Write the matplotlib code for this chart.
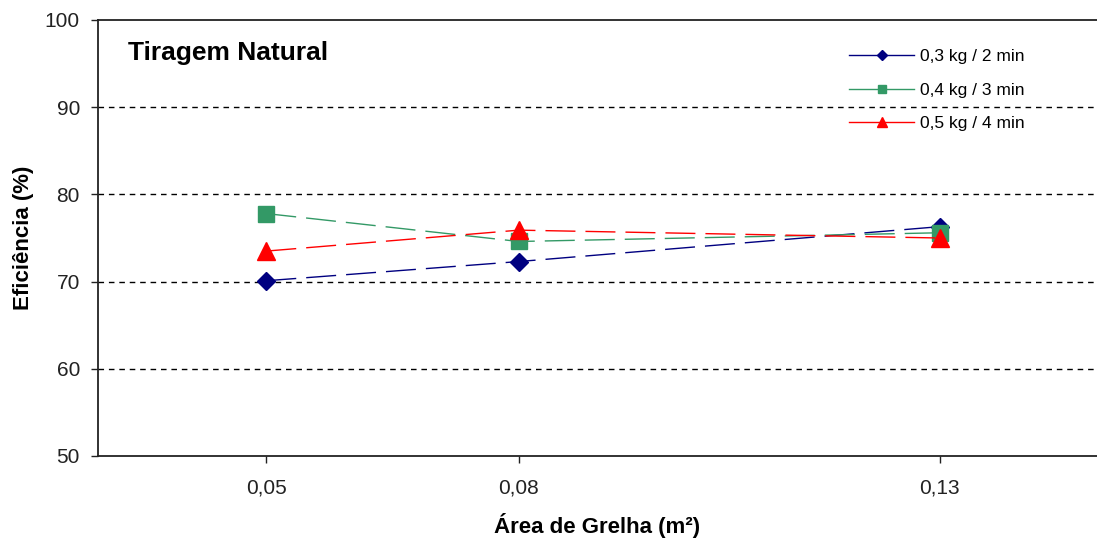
import matplotlib
matplotlib.use("Agg")
import matplotlib.pyplot as plt
from matplotlib.lines import Line2D

plt.rcParams['font.family'] = ['Liberation Sans', 'DejaVu Sans']

area = [0.05, 0.08, 0.13]
area_labels = ["0,05", "0,08", "0,13"]
serie_03 = [70.1, 72.3, 76.3]
serie_04 = [77.8, 74.6, 75.6]
serie_05 = [73.5, 75.9, 75.0]
labels = ["0,3 kg / 2 min", "0,4 kg / 3 min", "0,5 kg / 4 min"]
yticks = [50, 60, 70, 80, 90, 100]

colors = ["#000080", "#339966", "#FF0000"]
markers = ["D", "s", "^"]
msizes = [8.7, 11.5, 12.5]
leg_ms = [5.0, 6.0, 7.0]

fig = plt.figure(figsize=(10.97, 5.42), dpi=100)
ax = fig.add_axes([98/1097, 1-456/542, 1-98/1097, (456-20)/542])

dash = (0, (21.6, 7.2))
for vals, c, m, ms in zip([serie_03, serie_04, serie_05], colors, markers, msizes):
    ax.plot(area, vals, color=c, lw=1.0, linestyle=dash, marker=m, markersize=ms,
            markerfacecolor=c, markeredgecolor=c, zorder=3)

ax.set_xlim(0.03, 0.1487)
ax.set_ylim(50, 100)
ax.set_xticks(area)
ax.set_xticklabels(area_labels)
ax.set_yticks(yticks)
ax.set_yticklabels([str(v) for v in yticks])

for v in yticks[1:-1]:
    ax.axhline(v, color='black', lw=1.0, linestyle=(0, (4, 3.5)), zorder=1)

ax.spines['right'].set_visible(False)
for s in ['left', 'bottom', 'top']:
    ax.spines[s].set_linewidth(1.3)
    ax.spines[s].set_color('#222222')

ax.tick_params(axis='both', direction='out', length=5, width=1, colors='#222222',
               labelsize=15, labelcolor='#222222')
ax.tick_params(axis='x', pad=11.5)
ax.tick_params(axis='y', pad=8)

ax.set_xlabel("Área de Grelha (m²)", fontsize=16, fontweight='bold', labelpad=11)
ax.set_ylabel("Eficiência (%)", fontsize=16, fontweight='bold', labelpad=8)

ax.text(0.03, 0.925, "Tiragem Natural", transform=ax.transAxes, fontsize=19,
        fontweight='bold', va='center', ha='left')

handles = [Line2D([], [], color=c, lw=1.0, marker=m, markersize=lm, markerfacecolor=c,
                  markeredgecolor=c) for c, m, lm in zip(colors, markers, leg_ms)]
ax.legend(handles, labels, loc='upper left', bbox_to_anchor=(0.745, 0.95), frameon=False,
          fontsize=12.5, handlelength=3.75, handletextpad=0.3, labelspacing=1.07,
          borderaxespad=0)

fig.savefig("out.png", dpi=100)
